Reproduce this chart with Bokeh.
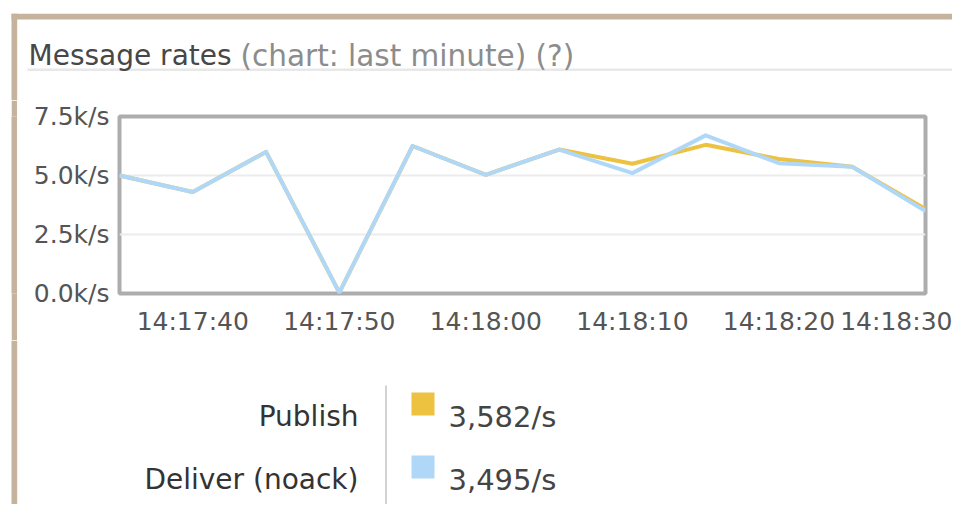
from bokeh.plotting import figure
from bokeh.models import FixedTicker, Range1d, Spacer
from bokeh.layouts import column, row
from bokeh.core.properties import value
from bokeh.embed import file_html
from bokeh.resources import INLINE

# ---- data ----
times = ["14:17:35", "14:17:40", "14:17:45", "14:17:50", "14:17:55", "14:18:00",
         "14:18:05", "14:18:10", "14:18:15", "14:18:20", "14:18:25", "14:18:30"]
publish = [5000, 4300, 6000, 40, 6250, 5030, 6100, 5500, 6300, 5700, 5370, 3582]
deliver = [5000, 4300, 6000, 40, 6250, 5030, 6100, 5100, 6700, 5520, 5370, 3495]

y_ticks = [0, 2500, 5000, 7500]
y_tick_labels = ["0.0k/s", "2.5k/s", "5.0k/s", "7.5k/s"]
x_tick_labels = ["14:17:40", "14:17:50", "14:18:00", "14:18:10", "14:18:20", "14:18:30"]

series_names = ["Publish", "Deliver (noack)"]
series_rates = ["3,582/s", "3,495/s"]
series_colors = ["#edc240", "#afd8f8"]

title_main = "Message rates"
title_sub = "(chart: last minute) (?)"


def to_sec(t):
    h, m, s = (int(v) for v in t.split(":"))
    return h * 3600 + m * 60 + s


x = [to_sec(t) for t in times]
x_ticks = [to_sec(t) for t in x_tick_labels]

FONT = "DejaVu Sans"
TAN = "#c5b39b"
W = 952
TOP_H, MID_H, BOT_H = 100, 240, 164


def canvas_fig(w, h):
    f = figure(width=w, height=h, output_backend="svg", toolbar_location=None,
               x_range=Range1d(0, w), y_range=Range1d(h, 0),
               x_axis_type=None, y_axis_type=None,
               min_border=0, min_border_left=0, min_border_right=0,
               min_border_top=0, min_border_bottom=0)
    f.outline_line_color = None
    f.grid.visible = False
    f.background_fill_color = "white"
    f.border_fill_color = "white"
    return f


# ---- top: frame border, title, underline ----
top = canvas_fig(W, TOP_H)
top.quad(left=11, right=W, top=13.3, bottom=19, fill_color=TAN, line_color=None)
top.quad(left=11, right=16.7, top=13.3, bottom=TOP_H, fill_color=TAN, line_color=None)
top.quad(left=27, right=W, top=68, bottom=70.5, fill_color="#e8e8e8", line_color=None)
top.text(x=[28], y=[55], text=[title_main], text_font=value(FONT),
         text_font_size="28px", text_color="#474747", text_baseline="alphabetic")
top.text(x=[240], y=[55], text=[title_sub], text_font=value(FONT),
         text_font_size="29.5px", text_color="#8c8c8c", text_baseline="alphabetic")

# ---- middle: left strip + chart ----
strip = figure(width=6, height=MID_H, output_backend="svg", toolbar_location=None,
               x_axis_type=None, y_axis_type=None, min_border=0,
               min_border_left=0, min_border_right=0, min_border_top=0,
               min_border_bottom=0)
strip.outline_line_color = None
strip.grid.visible = False
strip.background_fill_color = TAN
strip.border_fill_color = TAN

p = figure(width=W - 17, height=MID_H, output_backend="svg", toolbar_location=None,
           x_range=Range1d(x[0], x[-1]), y_range=Range1d(0, 7500),
           min_border_left=102, min_border_right=27, min_border_top=16,
           min_border_bottom=47)
p.background_fill_color = "white"
p.border_fill_color = "white"
p.outline_line_color = "#adadad"
p.outline_line_width = 4

p.xgrid.visible = False
p.ygrid.ticker = FixedTicker(ticks=y_ticks)
p.ygrid.grid_line_color = "#ececec"
p.ygrid.grid_line_width = 2

p.line(x, publish, line_color=series_colors[0], line_width=4, line_join="round")
p.line(x, deliver, line_color=series_colors[1], line_width=4, line_join="round")

for ax in (p.xaxis[0], p.yaxis[0]):
    ax.axis_line_color = None
    ax.major_tick_line_color = None
    ax.minor_tick_line_color = None
    ax.major_tick_out = 0
    ax.major_tick_in = 0
    ax.major_label_text_font = FONT
    ax.major_label_text_font_size = "25px"
    ax.major_label_text_color = "#555555"

p.yaxis.ticker = FixedTicker(ticks=y_ticks)
p.yaxis.major_label_overrides = dict(zip(y_ticks, y_tick_labels))
p.yaxis.major_label_standoff = 10
p.xaxis.ticker = FixedTicker(ticks=x_ticks)
p.xaxis.major_label_overrides = dict(zip(x_ticks, x_tick_labels))
p.xaxis.major_label_standoff = 13

# ---- bottom: legend ----
bot = canvas_fig(W, BOT_H)
bot.quad(left=11, right=16.7, top=0, bottom=BOT_H, fill_color=TAN, line_color=None)
bot.quad(left=384.5, right=386.5, top=45, bottom=BOT_H, fill_color="#d2d2d2", line_color=None)
row_base = [76, 139]
bot.text(x=[358] * 2, y=row_base, text=series_names, text_font=value(FONT),
         text_font_size="28px", text_color="#333333", text_align="right",
         text_baseline="alphabetic")
bot.quad(left=[411] * 2, right=[434] * 2, top=[b - 24 for b in row_base],
         bottom=[b - 1 for b in row_base], fill_color=series_colors, line_color=None)
bot.text(x=[448] * 2, y=row_base, text=series_rates, text_font=value(FONT),
         text_font_size="29px", text_color="#444444", text_baseline="alphabetic")

middle = row(Spacer(width=11, height=MID_H), strip, p, spacing=0)
layout = column(top, middle, bot, spacing=0)
open("out.html", "w").write(file_html(layout, INLINE))
